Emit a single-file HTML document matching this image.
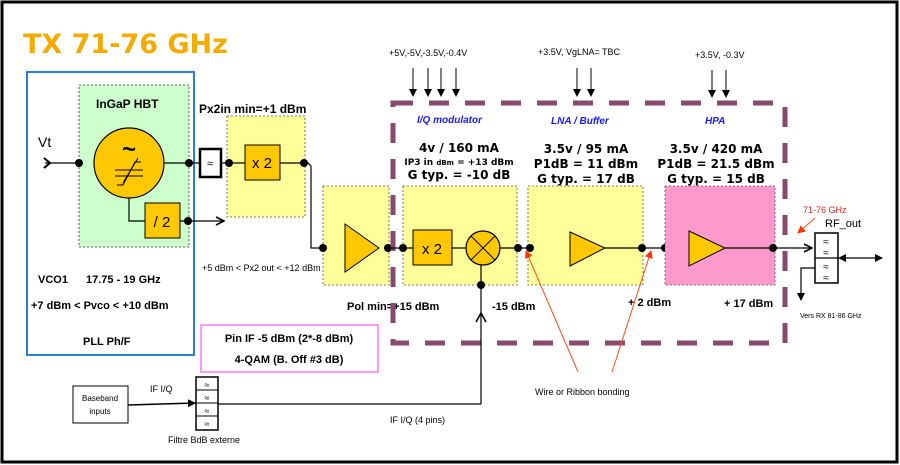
<!DOCTYPE html>
<html><head><meta charset="utf-8"><style>
html,body{margin:0;padding:0;background:#fff}
svg{display:block;font-family:"Liberation Sans",Arial,sans-serif}
</style></head><body>
<svg width="900" height="465" viewBox="0 0 900 465" xmlns="http://www.w3.org/2000/svg">
<defs>
<marker id="ah" markerWidth="8" markerHeight="8" refX="7" refY="4" orient="auto" markerUnits="userSpaceOnUse"><path d="M0,0 L8,4 L0,8 Z" fill="#000"/></marker>
<marker id="ao" markerWidth="10" markerHeight="10" refX="9" refY="5" orient="auto" markerUnits="userSpaceOnUse"><path d="M1,1 L9,5 L1,9" fill="none" stroke="#000" stroke-width="1.6"/></marker>
<marker id="ar" markerWidth="8" markerHeight="8" refX="7" refY="4" orient="auto" markerUnits="userSpaceOnUse"><path d="M0,0 L8,4 L0,8 Z" fill="#ff3300"/></marker>
</defs>
<rect x="0" y="0" width="900" height="465" fill="#fff"/>
<rect x="2" y="2" width="895" height="460" fill="none" stroke="#000" stroke-width="3"/>
<text x="23" y="53" font-size="27" font-weight="bold" fill="#f3ab00" font-family="'DejaVu Sans',sans-serif">TX 71-76 GHz</text>

<!-- PLL blue box -->
<rect x="27" y="72" width="167" height="283" fill="none" stroke="#2a7fd4" stroke-width="2"/>
<rect x="79" y="85" width="110" height="162" fill="#ccffcc" stroke="#333" stroke-width="0.8" stroke-dasharray="2,2"/>
<text x="96" y="108" font-size="12" font-weight="bold">InGaP HBT</text>
<text x="38" y="147" font-size="14">Vt</text>
<line x1="45" y1="163" x2="79" y2="163" stroke="#000" stroke-width="1.2"/>
<path d="M44,158 L50,163 L44,168" fill="none" stroke="#000" stroke-width="2"/>
<circle cx="129" cy="163" r="35" fill="#ffc800" stroke="#000" stroke-width="1.2"/>
<text x="129" y="157" font-size="24" text-anchor="middle" font-weight="bold">~</text>
<line x1="115" y1="170" x2="143" y2="170" stroke="#000"/>
<line x1="115" y1="176" x2="143" y2="176" stroke="#000"/>
<path d="M117,185 L123,185 L135,162 L141,162" fill="none" stroke="#000"/>
<line x1="123" y1="183" x2="138" y2="158" stroke="#000"/>
<line x1="164" y1="163" x2="199" y2="163" stroke="#000" stroke-width="1.2"/>
<circle cx="79" cy="163" r="4"/><circle cx="189" cy="163" r="4"/>
<path d="M129,198 V221 H145" fill="none" stroke="#000" stroke-width="1.2"/>
<rect x="145" y="203" width="35" height="35" fill="#ffc800" stroke="#000"/>
<text x="162" y="227" font-size="15" text-anchor="middle">/ 2</text>
<line x1="180" y1="221" x2="224" y2="221" stroke="#000" stroke-width="1.2" marker-end="url(#ao)"/>
<circle cx="188" cy="221" r="4"/>
<text x="38" y="283" font-size="11" font-weight="bold">VCO1</text>
<text x="86" y="283" font-size="11" font-weight="bold">17.75 - 19 GHz</text>
<text x="31" y="309" font-size="11" font-weight="bold">+7 dBm &lt; Pvco &lt; +10 dBm</text>
<text x="83" y="345" font-size="11" font-weight="bold">PLL Ph/F</text>

<!-- filter + x2 -->
<rect x="200" y="149" width="21" height="28" fill="#fff" stroke="#000" stroke-width="2.5"/>
<text x="210" y="167" font-size="11" text-anchor="middle">≈</text>
<text x="199" y="113" font-size="12" font-weight="bold">Px2in min=+1 dBm</text>
<rect x="227" y="116" width="78" height="101" fill="#ffff99" stroke="#555" stroke-width="0.8" stroke-dasharray="2,2"/>
<line x1="221" y1="163" x2="245" y2="163" stroke="#000" stroke-width="1.2"/>
<rect x="245" y="145" width="35" height="35" fill="#ffc800" stroke="#000"/>
<text x="262" y="168" font-size="15" text-anchor="middle">x 2</text>
<path d="M280,163 H308 L311,166 V248 H345" fill="none" stroke="#000" stroke-width="1.2"/>
<circle cx="229" cy="163" r="4"/><circle cx="304" cy="163" r="4"/>
<text x="202" y="271" font-size="9">+5 dBm &lt; Px2 out &lt; +12 dBm</text>

<!-- driver amp -->
<rect x="323" y="186" width="66" height="99" fill="#ffff99" stroke="#555" stroke-width="0.8" stroke-dasharray="2,2"/>
<path d="M345,224 L379,248 L345,272 Z" fill="#ffc800" stroke="#000"/>
<circle cx="323" cy="248" r="4"/><circle cx="388" cy="248" r="4"/>
<text x="347" y="310" font-size="11" font-weight="bold">Pol min=+15 dBm</text>

<!-- dashed MMIC box -->
<rect x="393" y="103" width="392" height="240" fill="none" stroke="#874a6c" stroke-width="5" stroke-dasharray="20,16"/>

<!-- voltages -->
<text x="389" y="56" font-size="9">+5V,-5V,-3.5V,-0.4V</text>
<g stroke="#000" stroke-width="1">
<line x1="413" y1="68" x2="413" y2="96" marker-end="url(#ah)"/>
<line x1="428" y1="68" x2="428" y2="96" marker-end="url(#ah)"/>
<line x1="441" y1="68" x2="441" y2="96" marker-end="url(#ah)"/>
<line x1="456" y1="68" x2="456" y2="96" marker-end="url(#ah)"/>
<line x1="577" y1="68" x2="577" y2="96" marker-end="url(#ah)"/>
<line x1="591" y1="68" x2="591" y2="96" marker-end="url(#ah)"/>
<line x1="712" y1="70" x2="712" y2="97" marker-end="url(#ah)"/>
<line x1="726" y1="70" x2="726" y2="97" marker-end="url(#ah)"/>
</g>
<text x="538" y="55" font-size="9">+3.5V, VgLNA= TBC</text>
<text x="695" y="58" font-size="9">+3.5V, -0.3V</text>

<g font-size="10" font-style="italic" font-weight="bold" fill="#1a1aff">
<text x="417" y="123">I/Q modulator</text>
<text x="551" y="124">LNA / Buffer</text>
<text x="705" y="124">HPA</text>
</g>
<g font-weight="bold" text-anchor="middle" font-family="'DejaVu Sans',sans-serif">
<text x="459" y="152" font-size="12">4v / 160 mA</text>
<text x="459" y="165" font-size="9">IP3 in <tspan font-size="7">dBm</tspan> = +13 dBm</text>
<text x="459" y="179" font-size="12">G typ. = -10 dB</text>
<text x="586" y="153" font-size="12">3.5v / 95 mA</text>
<text x="586" y="168" font-size="12">P1dB = 11 dBm</text>
<text x="586" y="183" font-size="12">G typ. = 17 dB</text>
<text x="716" y="153" font-size="12">3.5v / 420 mA</text>
<text x="716" y="168" font-size="12">P1dB = 21.5 dBm</text>
<text x="716" y="183" font-size="12">G typ. = 15 dB</text>
</g>

<!-- IQ box -->
<rect x="403" y="186" width="114" height="99" fill="#ffff99" stroke="#555" stroke-width="0.8" stroke-dasharray="2,2"/>
<line x1="388" y1="248" x2="413" y2="248" stroke="#000" stroke-width="1.2"/>
<rect x="413" y="230" width="39" height="35" fill="#ffc800" stroke="#000"/>
<text x="432" y="254" font-size="15" text-anchor="middle">x 2</text>
<line x1="452" y1="248" x2="466" y2="248" stroke="#000" stroke-width="1.2"/>
<circle cx="483" cy="248" r="17" fill="#ffc800" stroke="#000" stroke-width="1.2"/>
<line x1="471" y1="236" x2="495" y2="260" stroke="#000"/>
<line x1="495" y1="236" x2="471" y2="260" stroke="#000"/>
<line x1="500" y1="248" x2="570" y2="248" stroke="#000" stroke-width="1.2"/>
<circle cx="403" cy="248" r="4"/><circle cx="518" cy="248" r="4"/><circle cx="481" cy="285" r="4"/>
<line x1="481" y1="265" x2="481" y2="380" stroke="#000" stroke-width="1.2"/>
<path d="M476,322 L481,313 L486,322" fill="none" stroke="#000" stroke-width="1.6"/>
<text x="492" y="310" font-size="11" font-weight="bold">-15 dBm</text>

<!-- LNA -->
<rect x="528" y="186" width="115" height="99" fill="#ffff99" stroke="#555" stroke-width="0.8" stroke-dasharray="2,2"/>
<path d="M570,232 L605,248 L570,266 Z" fill="#ffc800" stroke="#000"/>
<line x1="605" y1="248" x2="689" y2="248" stroke="#000" stroke-width="1.2"/>
<circle cx="530" cy="248" r="4"/><circle cx="642" cy="248" r="4"/><circle cx="665" cy="248" r="4"/>
<text x="628" y="306" font-size="11" font-weight="bold">+ 2 dBm</text>

<!-- HPA -->
<rect x="665" y="186" width="110" height="99" fill="#ff99cc" stroke="#555" stroke-width="0.8" stroke-dasharray="2,2"/>
<path d="M689,231 L725,248 L689,266 Z" fill="#ffc800" stroke="#000"/>
<line x1="725" y1="248" x2="812" y2="248" stroke="#000" stroke-width="1.2" marker-end="url(#ao)"/>
<circle cx="773" cy="248" r="4"/>
<text x="724" y="307" font-size="11" font-weight="bold">+ 17 dBm</text>

<!-- bonding wires -->
<g stroke="#ff4a1a" stroke-width="1">
<line x1="578" y1="372" x2="526" y2="251" marker-end="url(#ar)"/>
<line x1="612" y1="372" x2="651" y2="251" marker-end="url(#ar)"/>
<line x1="815" y1="218" x2="798" y2="233" marker-end="url(#ar)"/>
</g>
<text x="535" y="395" font-size="9">Wire or Ribbon bonding</text>

<!-- RF out -->
<text x="803" y="213" font-size="9" fill="#e82020">71-76 GHz</text>
<text x="825" y="227" font-size="11">RF_out</text>
<rect x="815" y="233" width="23" height="50" fill="#fff" stroke="#000" stroke-width="1.5"/>
<line x1="815" y1="258" x2="838" y2="258" stroke="#000" stroke-width="1.2"/>
<g font-size="10" text-anchor="middle"><text x="826" y="245">≈</text><text x="826" y="256">≈</text><text x="826" y="270">≈</text><text x="826" y="281">≈</text></g>
<line x1="845" y1="258" x2="882" y2="258" stroke="#000" stroke-width="1.2" marker-end="url(#ah)"/>
<path d="M846,254 L838,258 L846,262 Z"/>
<path d="M815,268 H801 V300" fill="none" stroke="#000" stroke-width="1.2" marker-end="url(#ah)"/>
<text x="800" y="318" font-size="7">Vers RX 81-86 GHz</text>

<!-- pink box -->
<rect x="201" y="325" width="177" height="47" fill="#fff" stroke="#ff33ff" stroke-width="1"/>
<text x="289" y="342" font-size="11" font-weight="bold" text-anchor="middle">Pin IF -5 dBm (2*-8 dBm)</text>
<text x="289" y="363" font-size="11" font-weight="bold" text-anchor="middle">4-QAM (B. Off #3 dB)</text>

<!-- baseband -->
<rect x="73" y="386" width="55" height="37" fill="#fff" stroke="#000"/>
<text x="100" y="401" font-size="8" text-anchor="middle">Baseband</text>
<text x="100" y="414" font-size="8" text-anchor="middle">inputs</text>
<line x1="128" y1="405" x2="195" y2="403" stroke="#000" stroke-width="1.5" marker-end="url(#ah)"/>
<text x="150" y="392" font-size="9">IF I/Q</text>
<rect x="196" y="377" width="22" height="53" fill="#fff" stroke="#000" stroke-width="1.5"/>
<g stroke="#000"><line x1="196" y1="390" x2="218" y2="390"/><line x1="196" y1="403" x2="218" y2="403"/><line x1="196" y1="416" x2="218" y2="416"/></g>
<g font-size="9" text-anchor="middle"><text x="207" y="388">≈</text><text x="207" y="401">≈</text><text x="207" y="414">≈</text><text x="207" y="427">≈</text></g>
<path d="M218,404 H481" fill="none" stroke="#000" stroke-width="1.2"/>
<line x1="481" y1="380" x2="481" y2="404" stroke="#000" stroke-width="1.2"/>
<text x="168" y="443" font-size="9">Filtre BdB externe</text>
<text x="390" y="423" font-size="9">IF I/Q (4 pins)</text>
</svg>
</body></html>
